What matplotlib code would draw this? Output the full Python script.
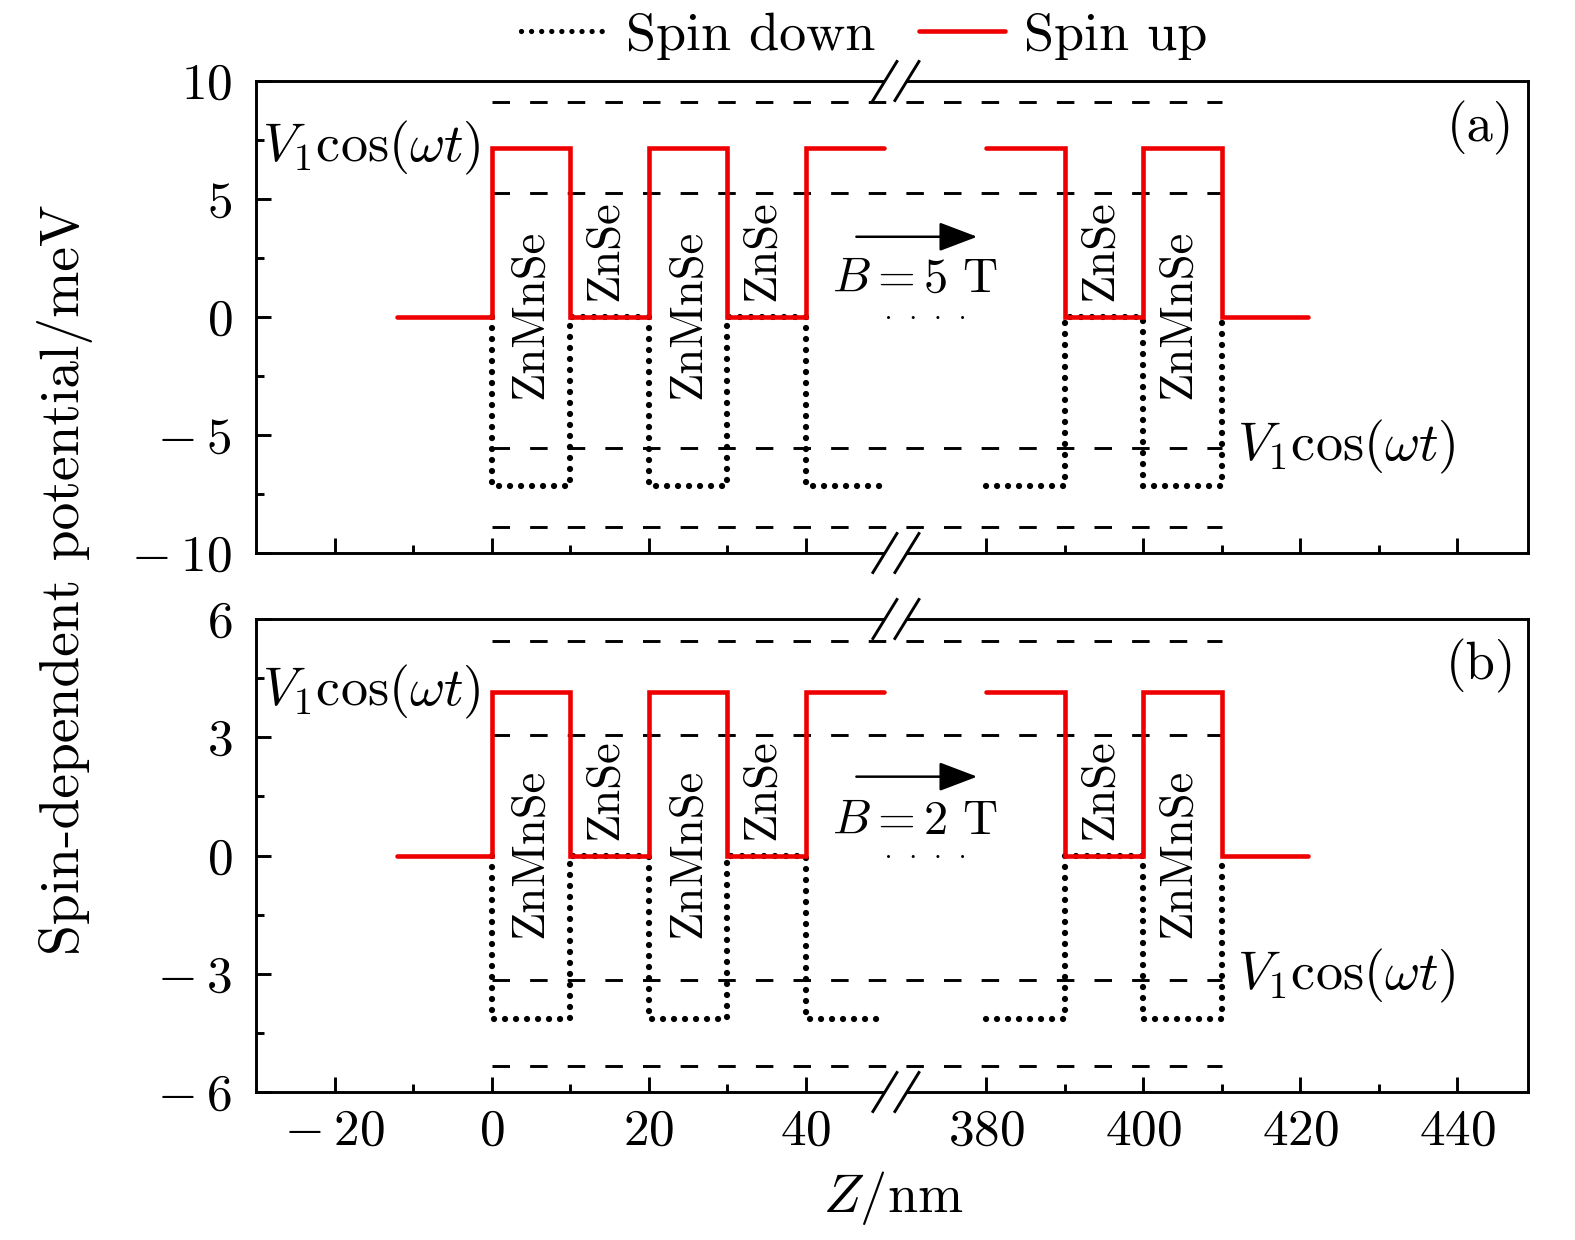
import numpy as np
import matplotlib
matplotlib.use("Agg")
import matplotlib.pyplot as plt
import matplotlib.transforms as mtransforms
from matplotlib.lines import Line2D
from matplotlib.patches import Polygon
from matplotlib.ticker import FixedLocator, FixedFormatter

plt.rcParams['font.family'] = 'serif'
plt.rcParams['font.serif'] = ['cmr10']
plt.rcParams['mathtext.fontset'] = 'cm'
plt.rcParams['axes.formatter.use_mathtext'] = True

# z positions of the step profile (nm), broken between 50 and 380
z_up_1 = [-12, 0, 0, 10, 10, 20, 20, 30, 30, 40, 40, 50]
z_up_2 = [380, 390, 390, 400, 400, 410, 410, 421]
shape_up_1 = [0, 0, 1, 1, 0, 0, 1, 1, 0, 0, 1, 1]
shape_up_2 = [1, 1, 0, 0, 1, 1, 0, 0]

z_dn_1 = [0, 0, 10, 10, 20, 20, 30, 30, 40, 40, 50]
z_dn_2 = [380, 390, 390, 400, 400, 410, 410]
shape_dn_1 = [0, 1, 1, 0, 0, 1, 1, 0, 0, 1, 1]
shape_dn_2 = [1, 1, 0, 0, 1, 1, 0]

# barrier heights (meV) and V1cos(wt) dashed levels
up_a, dn_a = 7.15, -7.15
up_b, dn_b = 4.14, -4.15
dash_a = [9.1, 5.25, -5.55, -8.9]
dash_b = [5.45, 3.05, -3.15, -5.35]
dash_z = [0, 410]

xticks = [-20, 0, 20, 40, 380, 400, 420, 440]
xtick_labels = [r'$-\:20$', '$0$', '$20$', '$40$', '$380$', '$400$', '$420$', '$440$']
xminor = [-10, 10, 30, 390, 410, 430]
yticks_a = [10, 5, 0, -5, -10]
ytick_labels_a = ['$10$', '$5$', '$0$', r'$-\:5$', r'$-\:10$']
yminor_a = [7.5, 2.5, -2.5, -7.5]
yticks_b = [6, 3, 0, -3, -6]
ytick_labels_b = ['$6$', '$3$', '$0$', r'$-\:3$', r'$-\:6$']
yminor_b = [4.5, 1.5, -1.5, -4.5]


def fwd(x):
    x = np.asarray(x, dtype=float)
    return np.where(x <= 50, x, np.where(x >= 370, x - 317, 50 + (x - 50) * 3 / 320))


def inv(y):
    y = np.asarray(y, dtype=float)
    return np.where(y <= 50, y, np.where(y >= 53, y + 317, 50 + (y - 50) * 320 / 3))


def profile(z1, s1, z2, s2, h):
    z = list(z1) + [np.nan] + list(z2)
    v = [h * s for s in s1] + [np.nan] + [h * s for s in s2]
    return z, v


fig = plt.figure(figsize=(15.75, 12.4), dpi=100)
ax_a = fig.add_axes([256 / 1575, 1 - 553 / 1240, 1272 / 1575, 472 / 1240])
ax_b = fig.add_axes([256 / 1575, 1 - 1092 / 1240, 1272 / 1575, 473 / 1240])

dot_style = dict(color='black', lw=4.5, ls=(0, (0.01, 1.75)), dash_capstyle='round')
red_style = dict(color='#ee0000', lw=3.3, solid_capstyle='round', solid_joinstyle='miter')
dash_style = dict(color='black', lw=2.1, ls=(0, (6.0, 6.9)))

panels = [
    (ax_a, up_a, dn_a, dash_a, (-10, 10), yticks_a, ytick_labels_a, yminor_a, '(a)', '5', 3.4, 1.6, -5.5),
    (ax_b, up_b, dn_b, dash_b, (-6, 6), yticks_b, ytick_labels_b, yminor_b, '(b)', '2', 2.0, 0.85, -3.05),
]

for ax, up, dn, dashes, ylim, yt, ytl, ym, tag, bval, arr_y, btxt_y, vlow_y in panels:
    ax.set_xscale('function', functions=(fwd, inv))
    ax.set_xlim(-30, 449)
    ax.set_ylim(*ylim)

    for d in dashes:
        ax.plot(dash_z, [d, d], **dash_style, zorder=2)
    zd, vd = profile(z_dn_1, shape_dn_1, z_dn_2, shape_dn_2, dn)
    ax.plot(zd, vd, **dot_style, zorder=3)
    zu, vu = profile(z_up_1, shape_up_1, z_up_2, shape_up_2, up)
    ax.plot(zu, vu, **red_style, zorder=4)

    ax.xaxis.set_major_locator(FixedLocator(xticks))
    ax.xaxis.set_minor_locator(FixedLocator(xminor))
    ax.xaxis.set_major_formatter(FixedFormatter(xtick_labels))
    ax.yaxis.set_major_locator(FixedLocator(yt))
    ax.yaxis.set_major_formatter(FixedFormatter(ytl))
    ax.yaxis.set_minor_locator(FixedLocator(ym))
    ax.tick_params(which='both', direction='in', top=False, right=False, width=2.1, labelsize=37)
    ax.tick_params(which='major', length=10.5)
    ax.tick_params(which='minor', length=5.5)
    ax.tick_params(axis='x', pad=12)
    ax.tick_params(axis='y', pad=17)
    for sp in ax.spines.values():
        sp.set_linewidth(2.1)

    # labels of layers
    lt = mtransforms.blended_transform_factory(ax.transData, ax.transAxes)
    for zc in [5, 25, 404.5]:
        ax.text(zc, 0.505, 'ZnMnSe', rotation=90, ha='center', va='center', fontsize=33.5, transform=lt)
    for zc in [14.5, 34.5, 394.5]:
        ax.text(zc, 0.64, 'ZnSe', rotation=90, ha='center', va='center', fontsize=33.5, transform=lt)

    ax.text(-1.4, up, r'$V_1\cos(\omega t)$', ha='right', va='center', fontsize=39)
    ax.text(412, vlow_y, r'$V_1\cos(\omega t)$', ha='left', va='center', fontsize=39)
    ax.text(0.963, 0.90, tag, transform=ax.transAxes, ha='center', va='center', fontsize=38)

    bt = mtransforms.blended_transform_factory(ax.transAxes, ax.transData)
    ax.annotate('', xy=(0.567, arr_y), xytext=(0.472, arr_y), xycoords=bt, textcoords=bt,
                arrowprops=dict(arrowstyle='-|>,head_length=0.95,head_width=0.36', lw=1.8,
                                color='black', mutation_scale=25, shrinkA=0, shrinkB=0))
    ax.text(0.518, btxt_y, r'$B = %s\ \mathrm{T}$' % bval, transform=bt, ha='center', va='center', fontsize=35)
    ax.plot([0.4969, 0.5560], [0, 0], transform=bt, color='black', lw=2.2,
            ls=(0, (0.01, 8.07)), dash_capstyle='round')

ax_a.tick_params(axis='x', labelbottom=False)

# break marks on the axes
fig.canvas.draw()
for ax in (ax_a, ax_b):
    h_px = ax.get_window_extent().height
    w_px = ax.get_window_extent().width
    c = ax.transAxes.inverted().transform(ax.transData.transform((210, 0)))[0]
    dx, dy, off = 12 / w_px, 19.5 / h_px, 11 / w_px
    for yf in (0, 1):
        c1, c2 = c - off, c + off
        poly = Polygon([(c1 - dx, yf - dy), (c1 + dx, yf + dy), (c2 + dx, yf + dy), (c2 - dx, yf - dy)],
                       closed=True, facecolor='white', edgecolor='none', transform=ax.transAxes,
                       clip_on=False, zorder=10)
        ax.add_patch(poly)
        for cc in (c1, c2):
            ax.add_line(Line2D([cc - dx, cc + dx], [yf - dy, yf + dy], transform=ax.transAxes,
                               color='black', lw=2.1, clip_on=False, zorder=11))

fig.text(65 / 1575, 1 - 580 / 1240, 'Spin-dependent potential/meV', rotation=90,
         ha='center', va='center', fontsize=40)
fig.text(893 / 1575, 1 - 1198 / 1240, r'$Z$/nm', ha='center', va='center', fontsize=39)

handles = [Line2D([], [], color='black', lw=3.8, ls=(0, (0.01, 1.9)), dash_capstyle='round'),
           Line2D([], [], **red_style)]
fig.legend(handles, ['Spin down', 'Spin up'], loc='center', bbox_to_anchor=(864 / 1575, 1 - 36 / 1240),
           ncol=2, frameon=False, fontsize=39, handlelength=1.6, handletextpad=0.34,
           columnspacing=0.8, borderaxespad=0)

fig.savefig('out.png', dpi=100)
